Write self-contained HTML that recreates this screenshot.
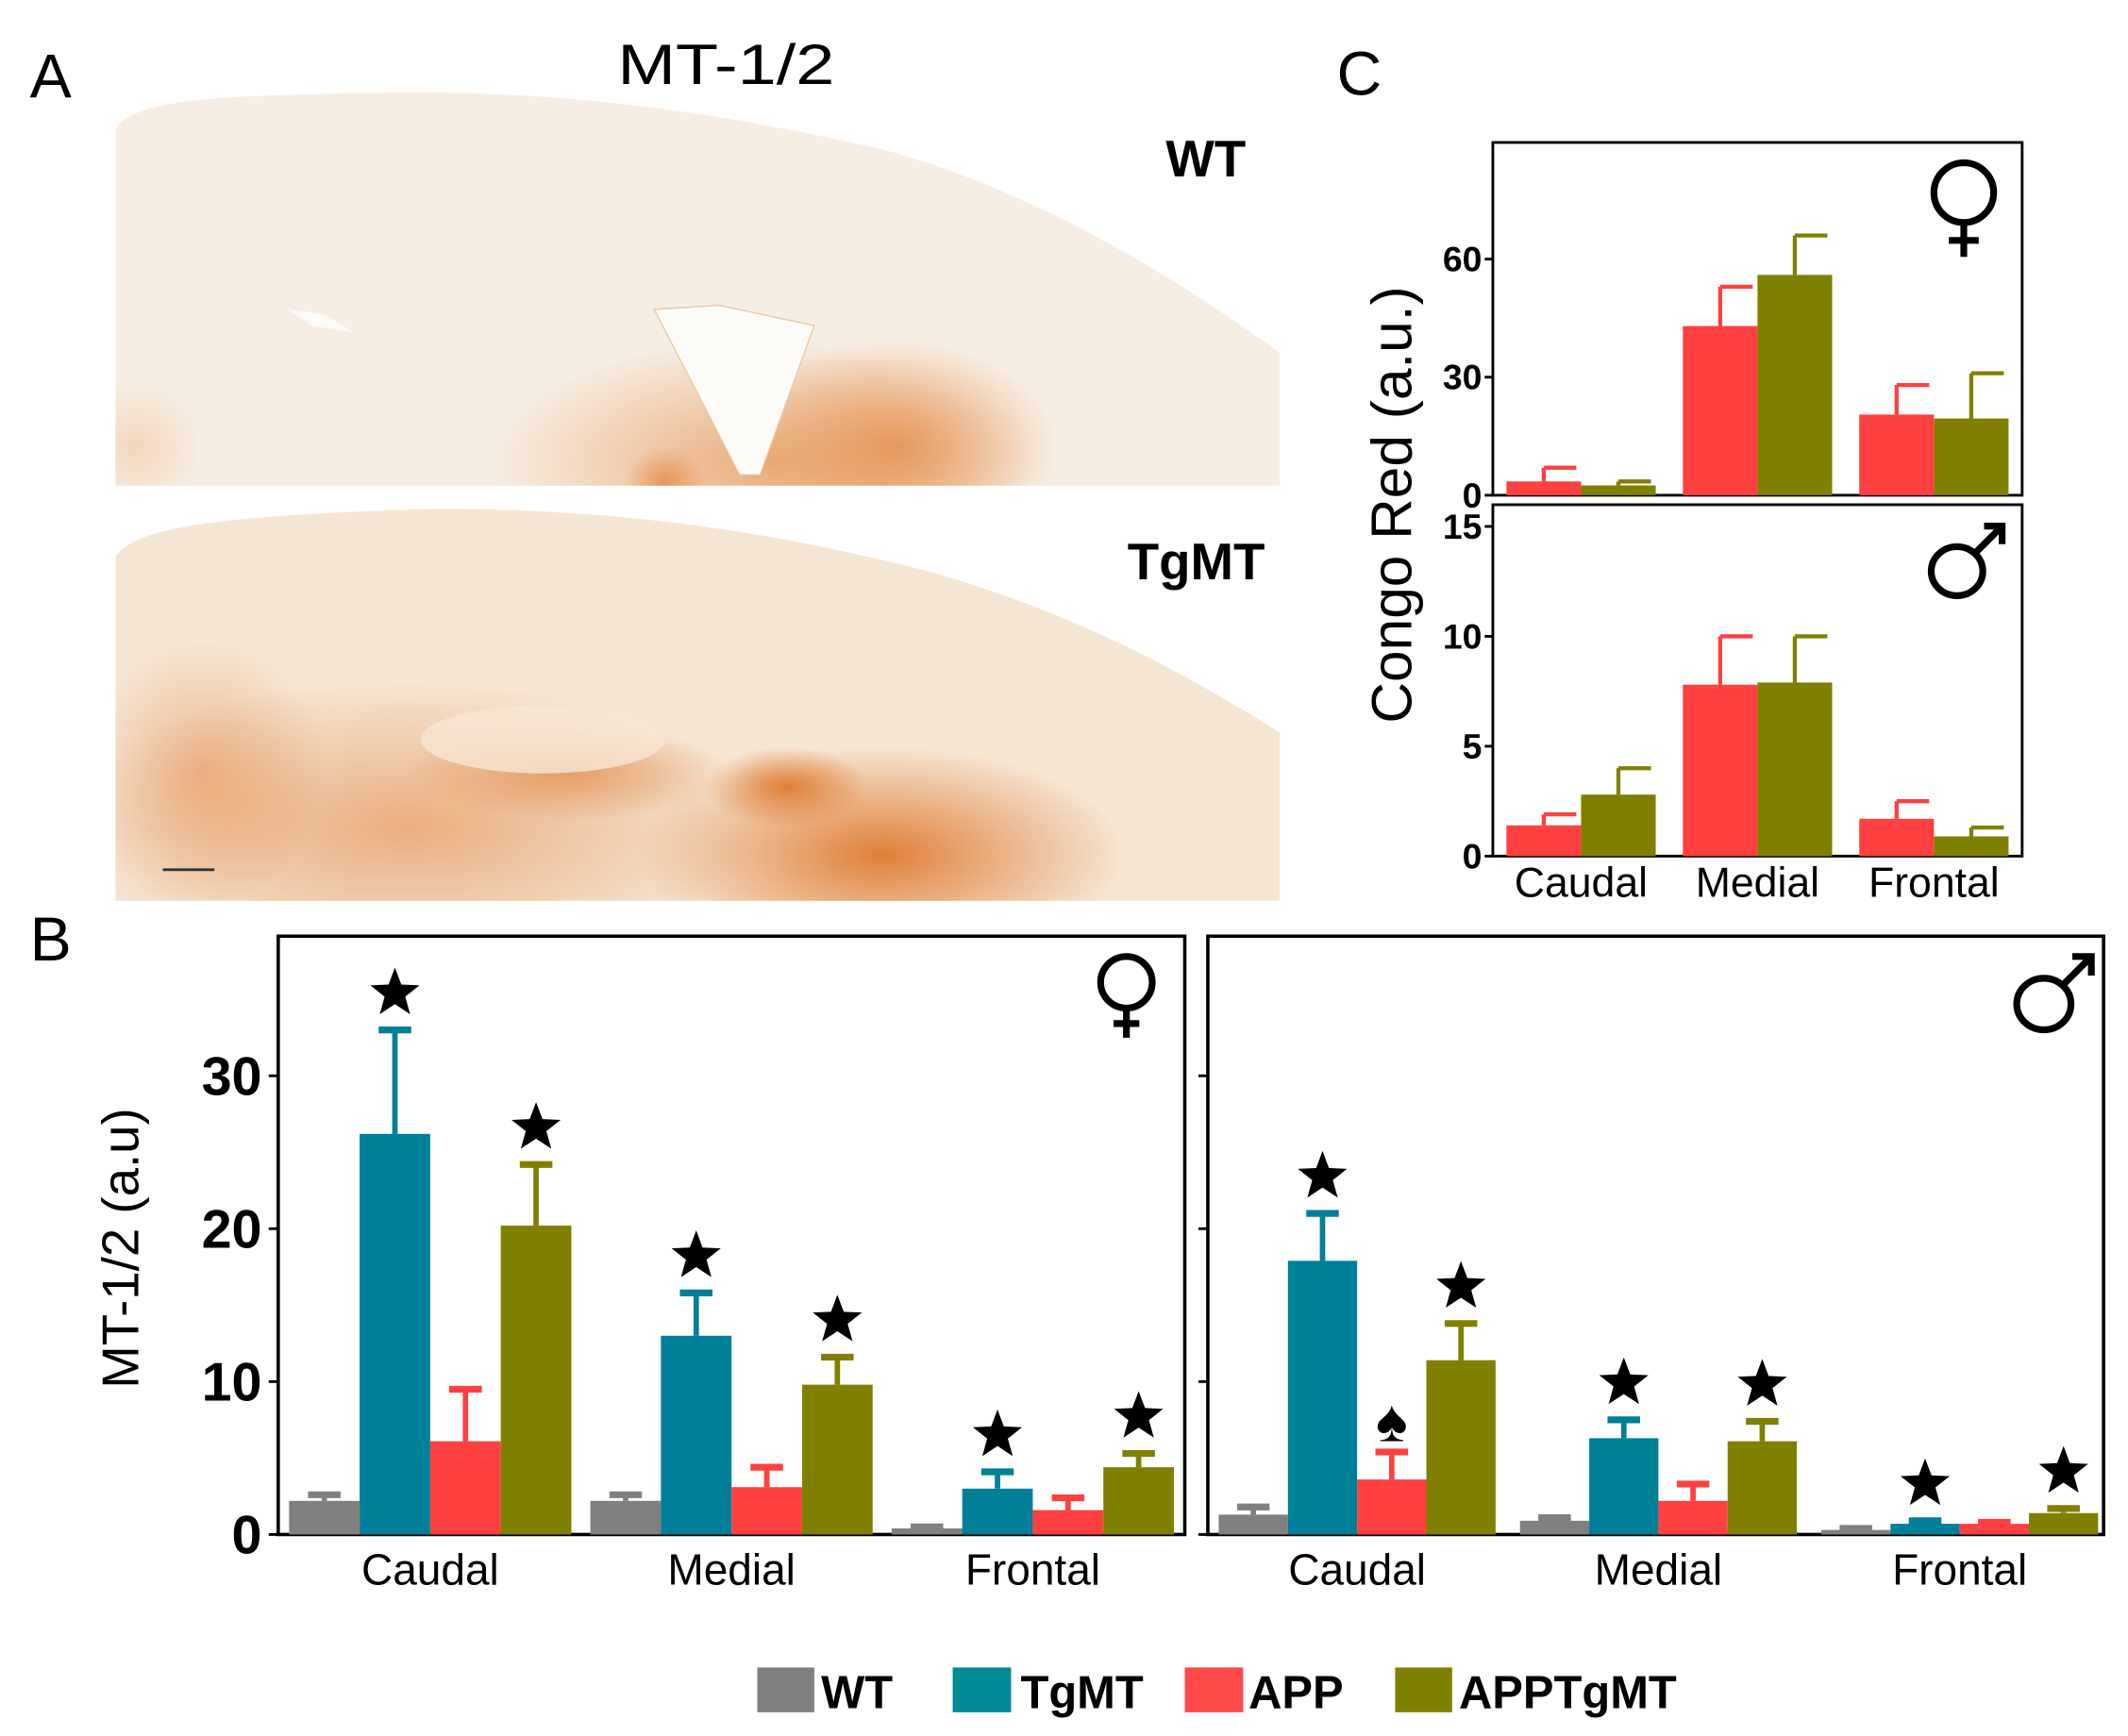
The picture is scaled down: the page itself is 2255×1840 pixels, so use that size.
<!DOCTYPE html>
<html><head><meta charset="utf-8">
<style>
html,body{margin:0;padding:0;background:#fff;}
svg{display:block;}
text{font-family:"Liberation Sans",Arial,sans-serif;}
</style></head>
<body>
<svg id="fig" width="2255" height="1840" viewBox="0 0 1568 1279.5" preserveAspectRatio="none" xmlns="http://www.w3.org/2000/svg">
<defs>
<radialGradient id="wtOr" cx="0.5" cy="0.5" r="0.5"><stop offset="0" stop-color="#e38a45" stop-opacity="0.8"/><stop offset="1" stop-color="#e38a45" stop-opacity="0"/></radialGradient>
<radialGradient id="tgOr" cx="0.5" cy="0.5" r="0.5"><stop offset="0" stop-color="#df7a30" stop-opacity="0.95"/><stop offset="1" stop-color="#df7a30" stop-opacity="0"/></radialGradient>
<clipPath id="clipWT"><path d="M85,95 C100,75 140,70 300,68 C450,68 560,90 650,110 C760,140 860,200 943,260 L943,358 L85,358 Z"/></clipPath>
<clipPath id="clipTG"><path d="M85,410 C100,390 150,380 320,375 C470,375 580,395 680,420 C790,450 880,500 943,540 L943,664 L85,664 Z"/></clipPath>
</defs>

<text x="22" y="72" font-size="46">A</text>
<text x="535" y="62" font-size="42" text-anchor="middle" textLength="160" lengthAdjust="spacingAndGlyphs">MT-1/2</text>

<g clip-path="url(#clipWT)">
  <rect x="85" y="60" width="860" height="300" fill="#f7eee3"/>
  <ellipse cx="560" cy="340" rx="200" ry="90" fill="url(#wtOr)" opacity="0.8"/>
  <ellipse cx="660" cy="330" rx="120" ry="80" fill="url(#wtOr)"/>
  <ellipse cx="490" cy="355" rx="30" ry="25" fill="url(#wtOr)"/>
  <ellipse cx="100" cy="330" rx="50" ry="50" fill="url(#wtOr)" opacity="0.3"/>
  <path d="M482,228 L530,225 L600,240 L560,350 L545,350 Z" fill="#fdfbf8" stroke="#e8c8a4"/>
  <path d="M212,228 L240,232 L260,245 L230,240 Z" fill="#fdfbf8"/>
</g>
<text x="918" y="130" font-size="38" font-weight="bold" text-anchor="end">WT</text>

<g clip-path="url(#clipTG)">
  <rect x="85" y="370" width="860" height="300" fill="#f5e6d4"/>
  <ellipse cx="300" cy="610" rx="260" ry="110" fill="url(#tgOr)" opacity="0.55"/>
  <ellipse cx="650" cy="630" rx="180" ry="80" fill="url(#tgOr)"/>
  <ellipse cx="580" cy="580" rx="60" ry="30" fill="url(#tgOr)"/>
  <ellipse cx="420" cy="570" rx="120" ry="35" fill="url(#tgOr)" opacity="0.6"/>
  <ellipse cx="150" cy="570" rx="90" ry="100" fill="url(#tgOr)" opacity="0.45"/>
  <ellipse cx="400" cy="545" rx="90" ry="25" fill="#f6e6d4" opacity="0.8"/>
</g>
<text x="932" y="427" font-size="38" font-weight="bold" text-anchor="end">TgMT</text>
<line x1="120" y1="641" x2="158" y2="641" stroke="#333" stroke-width="2"/>

<text x="985" y="70" font-size="46">C</text>
<text transform="translate(1040,372) rotate(-90)" font-size="42" text-anchor="middle">Congo Red (a.u.)</text>
<g id="chartC"></g>

<text x="22" y="708" font-size="46">B</text>
<text transform="translate(102,920) rotate(-90)" font-size="38" text-anchor="middle">MT-1/2 (a.u)</text>
<g id="chartB"></g>

<g>
  <rect x="558" y="1229" width="42" height="33" fill="#808080"/>
  <text x="605" y="1259" font-size="34" font-weight="bold">WT</text>
  <rect x="702" y="1229" width="43" height="33" fill="#008a94"/>
  <text x="752" y="1259" font-size="34" font-weight="bold">TgMT</text>
  <rect x="873" y="1229" width="43" height="33" fill="#ff4848"/>
  <text x="920" y="1259" font-size="34" font-weight="bold">APP</text>
  <rect x="1028" y="1229" width="42" height="33" fill="#808000"/>
  <text x="1075" y="1259" font-size="34" font-weight="bold">APPTgMT</text>
</g>
</svg>
<script>
const regionsB = ["Caudal", "Medial", "Frontal"];
const seriesB = ["WT", "TgMT", "APP", "APPTgMT"];
const femaleWT = [2.2, 2.2, 0.4];
const femaleWTErr = [2.6, 2.6, 0.5];
const femaleTgMT = [26.2, 13.0, 3.0];
const femaleTgMTErr = [33.0, 15.8, 4.1];
const femaleAPP = [6.1, 3.1, 1.6];
const femaleAPPErr = [9.5, 4.4, 2.4];
const femaleAPPTgMT = [20.2, 9.8, 4.4];
const femaleAPPTgMTErr = [24.2, 11.6, 5.3];
const maleWT = [1.3, 0.9, 0.3];
const maleWTErr = [1.8, 1.1, 0.4];
const maleTgMT = [17.9, 6.3, 0.7];
const maleTgMTErr = [21.0, 7.5, 0.9];
const maleAPP = [3.6, 2.2, 0.7];
const maleAPPErr = [5.4, 3.3, 0.8];
const maleAPPTgMT = [11.4, 6.1, 1.4];
const maleAPPTgMTErr = [13.8, 7.4, 1.7];
const ticksB = [0, 10, 20, 30];
const femaleMarks = [["","",""],["star","star","star"],["","",""],["star","star","star"]];
const maleMarks = [["","",""],["star","star","star"],["spade","",""],["star","star","star"]];

const regionsC = ["Caudal", "Medial", "Frontal"];
const cFemaleAPP = [3.5, 43, 20.5];
const cFemaleAPPErr = [7, 53, 28];
const cFemaleAPPTgMT = [2.5, 56, 19.5];
const cFemaleAPPTgMTErr = [3.5, 66, 31];
const cMaleAPP = [1.4, 7.8, 1.7];
const cMaleAPPErr = [1.9, 10, 2.5];
const cMaleAPPTgMT = [2.8, 7.9, 0.9];
const cMaleAPPTgMTErr = [4, 10, 1.3];
const ticksCF = [0, 30, 60];
const ticksCM = [0, 5, 10, 15];

const NS = "http://www.w3.org/2000/svg";
const colB = ["#808080", "#007f99", "#ff4040", "#808000"];
const colC = ["#ff4040", "#808000"];
function mk(parent, tag, attrs) {
  const e = document.createElementNS(NS, tag);
  for (const k in attrs) e.setAttribute(k, attrs[k]);
  parent.appendChild(e);
  return e;
}
function starPath(cx, cy, r) {
  let d = "";
  for (let i = 0; i < 10; i++) {
    const rr = i % 2 ? r * 0.42 : r;
    const a = -Math.PI / 2 + i * Math.PI / 5;
    d += (i ? "L" : "M") + (cx + rr * Math.cos(a)).toFixed(1) + "," + (cy + rr * Math.sin(a)).toFixed(1);
  }
  return d + "Z";
}
function femaleSym(parent, cx, cy, r, name) {
  const g = mk(parent, "g", {fill: "none", stroke: "#000", "stroke-width": 5});
  
  
  mk(g, "circle", {cx: cx, cy: cy, r: r});
  mk(g, "line", {x1: cx, x2: cx, y1: cy + r, y2: cy + r * 2.15});
  mk(g, "line", {x1: cx - r * 0.5, x2: cx + r * 0.5, y1: cy + r * 1.6, y2: cy + r * 1.6});
}
function maleSym(parent, cx, cy, r, name) {
  const g = mk(parent, "g", {fill: "none", stroke: "#000", "stroke-width": 5});
  
  
  mk(g, "ellipse", {cx: cx, cy: cy, rx: r, ry: r * 0.95});
  const a = r * 0.7, L = r * 1.75;
  mk(g, "line", {x1: cx + a, y1: cy - a, x2: cx + L, y2: cy - L});
  mk(g, "polyline", {points: (cx + L - r * 0.7) + "," + (cy - L) + " " + (cx + L) + "," + (cy - L) + " " + (cx + L) + "," + (cy - L + r * 0.7)});
}

function drawB(g, box, vals, errs, marks, showLabels, panelName) {
  const y = v => box.y0 - v * box.k;
  const frame = mk(g, "rect", {x: box.x, y: box.top, width: box.w, height: box.y0 - box.top, fill: "none", stroke: "#000", "stroke-width": 2.5});
  
  
  ticksB.forEach(t => {
    const tk = mk(g, "line", {x1: box.x - 7, x2: box.x, y1: y(t), y2: y(t), stroke: "#000", "stroke-width": 2});
    
    
    if (showLabels) {
      const tl = mk(g, "text", {x: box.x - 12, y: y(t) + 14, "font-size": 40, "font-weight": "bold", "text-anchor": "end"});
      tl.textContent = t;
      
      
    }
  });
  const bw = box.bw;
  regionsB.forEach((r, ri) => {
    const gx = box.g0 + ri * box.gs;
    for (let s = 0; s < 4; s++) {
      const x = gx + s * bw;
      const v = vals[s][ri], e = errs[s][ri];
      const ln = mk(g, "line", {x1: x + bw / 2, x2: x + bw / 2, y1: y(v), y2: y(e), stroke: colB[s], "stroke-width": 4});
      
      
      const cap = mk(g, "line", {x1: x + bw / 2 - 12, x2: x + bw / 2 + 12, y1: y(e), y2: y(e), stroke: colB[s], "stroke-width": 5});
      
      
      const b = mk(g, "rect", {x: x, y: y(v), width: bw, height: v * box.k, fill: colB[s]});
      
      
      const m = marks[s][ri];
      if (m === "star") {
        const st = mk(g, "path", {d: starPath(x + bw / 2, y(e) - 27, 19), fill: "#000"});
        
        
      } else if (m === "spade") {
        const sp = mk(g, "text", {x: x + bw / 2, y: y(e) - 8, "font-size": 44, "text-anchor": "middle"});
        sp.textContent = "\u2660";
        
        
      }
    }
    const lab = mk(g, "text", {x: gx + 2 * bw, y: box.y0 + 37, "font-size": 32, "text-anchor": "middle"});
    lab.textContent = r;
    
    
  });
}

const gB = document.getElementById("chartB");
drawB(gB, {x: 205, top: 690, w: 668, y0: 1131, k: 11.27, g0: 213, gs: 222, bw: 52},
  [femaleWT, femaleTgMT, femaleAPP, femaleAPPTgMT],
  [femaleWTErr, femaleTgMTErr, femaleAPPErr, femaleAPPTgMTErr],
  femaleMarks, true, "female-panel");
drawB(gB, {x: 890, top: 690, w: 660, y0: 1131, k: 11.27, g0: 898, gs: 222, bw: 51},
  [maleWT, maleTgMT, maleAPP, maleAPPTgMT],
  [maleWTErr, maleTgMTErr, maleAPPErr, maleAPPTgMTErr],
  maleMarks, false, "male-panel");
femaleSym(gB, 830, 724, 19, "female-symbol");
maleSym(gB, 1506, 740, 20, "male-symbol");

function drawC(g, box, vals, errs, ticks, showX, panelName) {
  const y = v => box.y0 - v * box.k;
  const frame = mk(g, "rect", {x: box.x, y: box.top, width: box.w, height: box.y0 - box.top, fill: "none", stroke: "#000", "stroke-width": 2});
  
  
  ticks.forEach(t => {
    const tk = mk(g, "line", {x1: box.x - 6, x2: box.x, y1: y(t), y2: y(t), stroke: "#000", "stroke-width": 2});
    
    
    const tl = mk(g, "text", {x: box.x - 8, y: y(t) + 9, "font-size": 26, "font-weight": "bold", "text-anchor": "end"});
    tl.textContent = t;
    
    
  });
  const bw = box.bw;
  regionsC.forEach((r, ri) => {
    const gx = box.g0 + ri * box.gs;
    for (let s = 0; s < 2; s++) {
      const x = gx + s * bw;
      const v = vals[s][ri], e = errs[s][ri];
      const ln = mk(g, "line", {x1: x + bw / 2, x2: x + bw / 2, y1: y(v), y2: y(e), stroke: colC[s], "stroke-width": 3});
      
      
      const cap = mk(g, "line", {x1: x + bw / 2, x2: x + bw / 2 + 24, y1: y(e), y2: y(e), stroke: colC[s], "stroke-width": 3});
      
      
      const b = mk(g, "rect", {x: x, y: y(v), width: bw, height: v * box.k, fill: colC[s]});
      
      
    }
    if (showX) {
      const lab = mk(g, "text", {x: gx + bw, y: box.y0 + 30, "font-size": 31, "text-anchor": "middle"});
      lab.textContent = r;
      
      
    }
  });
}
const gC = document.getElementById("chartC");
drawC(gC, {x: 1100, top: 105, w: 390, y0: 365, k: 2.9, g0: 1110, gs: 130, bw: 55},
  [cFemaleAPP, cFemaleAPPTgMT], [cFemaleAPPErr, cFemaleAPPTgMTErr], ticksCF, false, "c-female-panel");
drawC(gC, {x: 1100, top: 372, w: 390, y0: 631, k: 16.2, g0: 1110, gs: 130, bw: 55},
  [cMaleAPP, cMaleAPPTgMT], [cMaleAPPErr, cMaleAPPTgMTErr], ticksCM, true, "c-male-panel");
femaleSym(gC, 1447, 142, 22, "c-female-symbol");
maleSym(gC, 1442, 421, 19, "c-male-symbol");
</script>
</body></html>
